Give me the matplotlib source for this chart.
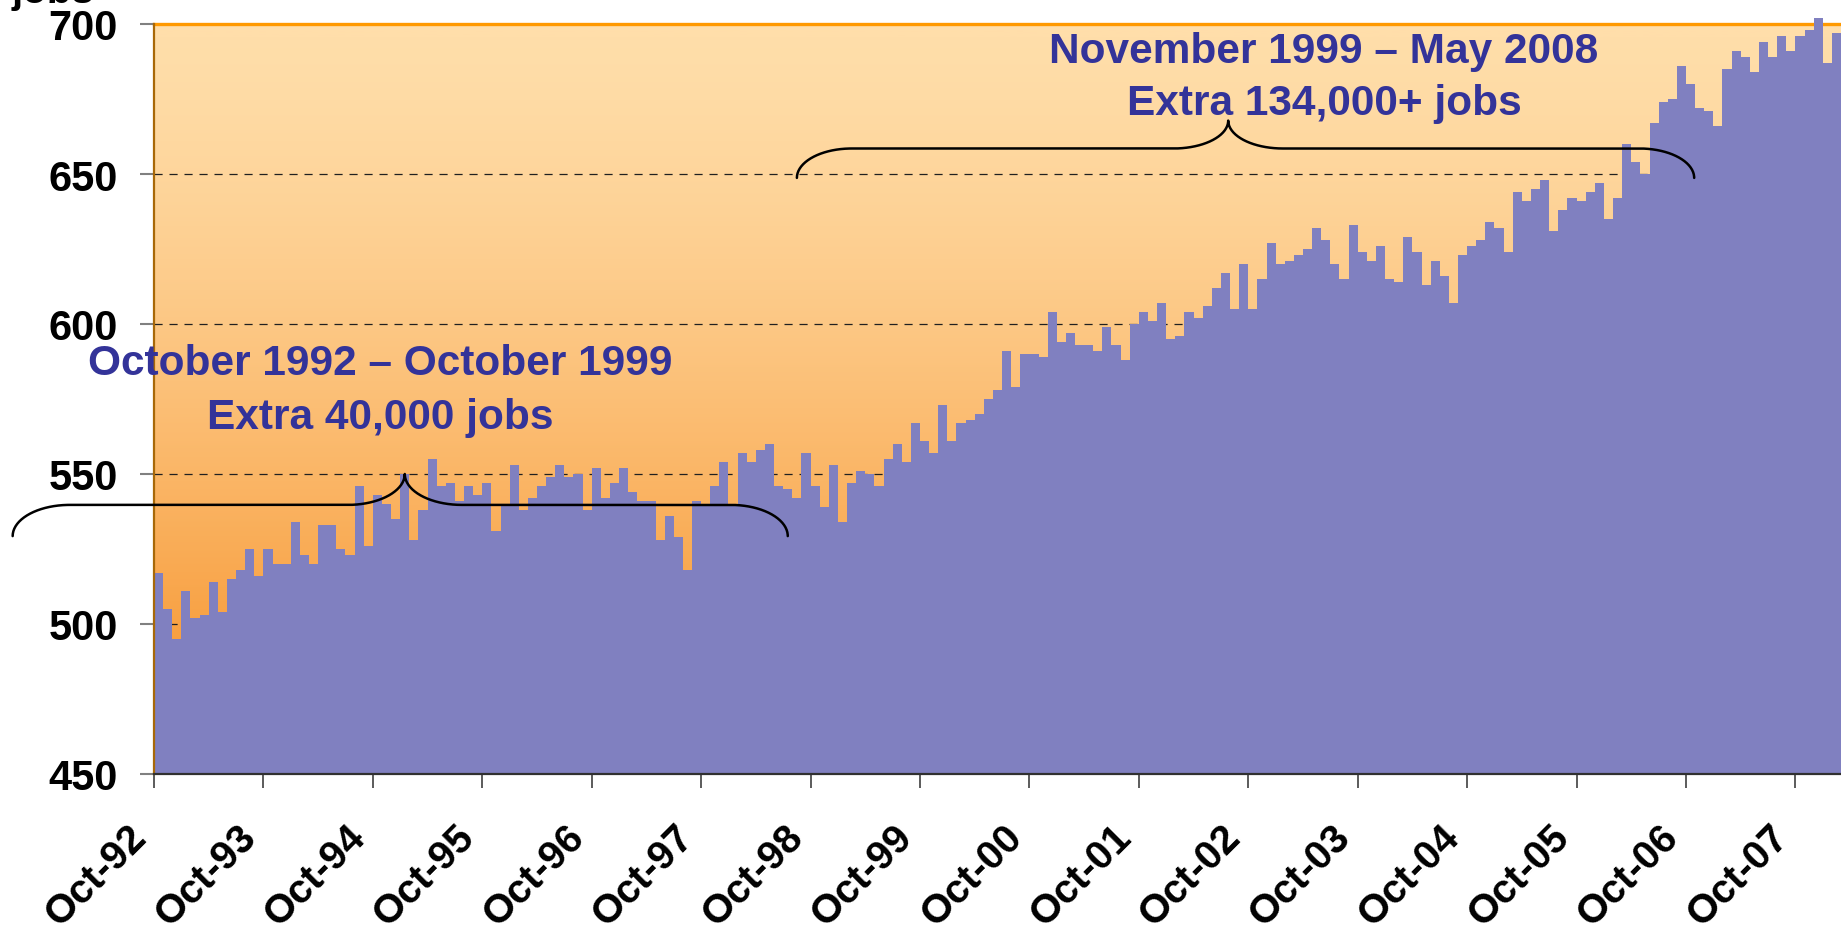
import numpy as np
import matplotlib
matplotlib.use('Agg')
import matplotlib.pyplot as plt
from matplotlib.colors import LinearSegmentedColormap
from matplotlib.transforms import ScaledTranslation

# monthly jobs ('000), Oct-92 onwards (chart is cropped at Feb-08)
jobs = [
    517, 505, 495, 511, 502, 503, 514, 504, 515, 518,
    525, 516, 525, 520, 520, 534, 523, 520, 533, 533,
    525, 523, 546, 526, 543, 540, 535, 550, 528, 538,
    555, 546, 547, 541, 546, 543, 547, 531, 540, 553,
    538, 542, 546, 549, 553,
    549, 550, 538, 552, 542, 547, 552, 544, 541, 541,
    528, 536, 529, 518, 541, 540, 546, 554, 540, 557,
    554, 558, 560, 546, 545, 542, 557, 546, 539, 553,
    534, 547, 551, 550, 546, 555, 560, 554, 567, 561,
    557, 573, 561, 567,
    568, 570, 575, 578, 591, 579, 590, 590, 589, 604,
    594, 597, 593, 593, 591, 599, 593, 588, 600, 604,
    601, 607, 595, 596, 604, 602, 606, 612, 617, 605,
    620, 605, 615, 627, 620, 621, 623, 625, 632, 628,
    620, 615, 633,
    624, 621, 626, 615, 614, 629, 624, 613, 621, 616,
    607, 623, 626, 628, 634, 632, 624, 644, 641, 645,
    648, 631, 638, 642, 641, 644, 647, 635, 642, 660,
    654, 650, 667, 674, 675, 686, 680, 672, 671, 666,
    685, 691, 689, 684, 694, 689, 696, 691, 696, 698,
    702, 687, 697,
]
tick_labels = ['Oct-92', 'Oct-93', 'Oct-94', 'Oct-95', 'Oct-96', 'Oct-97',
               'Oct-98', 'Oct-99', 'Oct-00', 'Oct-01', 'Oct-02', 'Oct-03',
               'Oct-04', 'Oct-05', 'Oct-06', 'Oct-07']
y_ticks = [450, 500, 550, 600, 650, 700]
grid_levels = [500, 550, 600, 650]

period1 = ['October 1992 \u2013 October 1999', 'Extra 40,000 jobs']
period2 = ['November 1999 \u2013 May 2008', 'Extra 134,000+ jobs']

FONT = 'Liberation Sans'
BAR = '#8080C0'
TXT = '#333399'


def brace(ax, x0, x1, xt, y_end, y_line, y_tip, rx):
    th = np.linspace(0, np.pi / 2, 40)
    xs = np.concatenate([
        x0 + rx * (1 - np.cos(th)),
        xt - rx + rx * np.sin(th),
        xt + rx * (1 - np.cos(th)),
        x1 - rx + rx * np.sin(th),
    ])
    ys = np.concatenate([
        y_end + (y_line - y_end) * np.sin(th),
        y_line + (y_tip - y_line) * (1 - np.cos(th)),
        y_tip + (y_line - y_tip) * np.sin(th),
        y_line + (y_end - y_line) * (1 - np.cos(th)),
    ])
    ax.plot(xs, ys, color='black', lw=1.8, zorder=5, clip_on=False,
            solid_capstyle='round')


fig = plt.figure(figsize=(18.41, 9.53), dpi=100)
W, H = 1841, 953
ax = fig.add_axes([154 / W, (H - 775) / H, (W - 154) / W, 750 / H])

n = len(jobs)
x = np.arange(n)

# gradient plot-area fill
cmap = LinearSegmentedColormap.from_list('bg', ['#FFDEAA', '#F68C20'])
g = np.linspace(0, 1, 256) ** 1.4
ax.imshow(g[:, None], cmap=cmap, aspect='auto', extent=[0, 1, 0, 1],
          transform=ax.transAxes, zorder=0, vmin=0, vmax=1)

for lvl in grid_levels:
    ax.axhline(lvl, color='#202020', lw=0.9, dashes=(6.5, 5.5), zorder=1)

ax.bar(x, np.array(jobs) - 450, bottom=450, width=1.0, align='edge',
       color=BAR, linewidth=0, zorder=2, clip_on=False)

ax.set_xlim(0, n)
ax.set_ylim(450, 700)

ax.set_yticks(y_ticks)
ax.set_yticklabels([str(v) for v in y_ticks], fontfamily=FONT,
                   fontweight='bold', fontsize=30)
ax.tick_params(axis='y', length=10, width=1.5, color='#808080', pad=16)

ax.set_xticks(np.arange(0, 12 * len(tick_labels), 12))
ax.set_xticklabels(tick_labels, rotation=45, ha='right', va='top',
                   rotation_mode='anchor', fontfamily=FONT,
                   fontweight='bold', fontsize=29)
ax.tick_params(axis='x', length=10, width=1.2, color='#404040', pad=21)
shift = ScaledTranslation(-27 / 100, 0, fig.dpi_scale_trans)
for lab in ax.get_xticklabels():
    lab.set_transform(lab.get_transform() + shift)

ax.spines['right'].set_visible(False)
ax.spines['top'].set_color('#FF9900')
ax.spines['top'].set_linewidth(2.4)
ax.spines['top'].set_zorder(1.5)
ax.spines['left'].set_color('#A86808')
ax.spines['left'].set_linewidth(1.6)
ax.spines['bottom'].set_color('#303030')
ax.spines['bottom'].set_linewidth(1.6)

# braces
brace(ax, -15.5, 69.5, 27.5, 529.3, 539.7, 550.0, 6.25)
brace(ax, 70.5, 168.9, 117.8, 648.7, 658.5, 667.8, 6.0)

# period annotations
for txt, yb in zip(period1, [583.3, 565.3]):
    ax.text(24.8, yb, txt, ha='center', va='baseline', color=TXT,
            fontfamily=FONT, fontweight='bold', fontsize=30.5, zorder=6,
            clip_on=False)
for txt, yb in zip(period2, [687.2, 670.0]):
    ax.text(128.3, yb, txt, ha='center', va='baseline', color=TXT,
            fontfamily=FONT, fontweight='bold', fontsize=30.5, zorder=6,
            clip_on=False)

# axis title, cropped at the top edge in the source
fig.text(12 / W, 1 - 3 / H, 'jobs', ha='left', va='baseline',
         fontfamily=FONT, fontweight='bold', fontsize=29)

fig.savefig('out.png', dpi=100, facecolor='white')
